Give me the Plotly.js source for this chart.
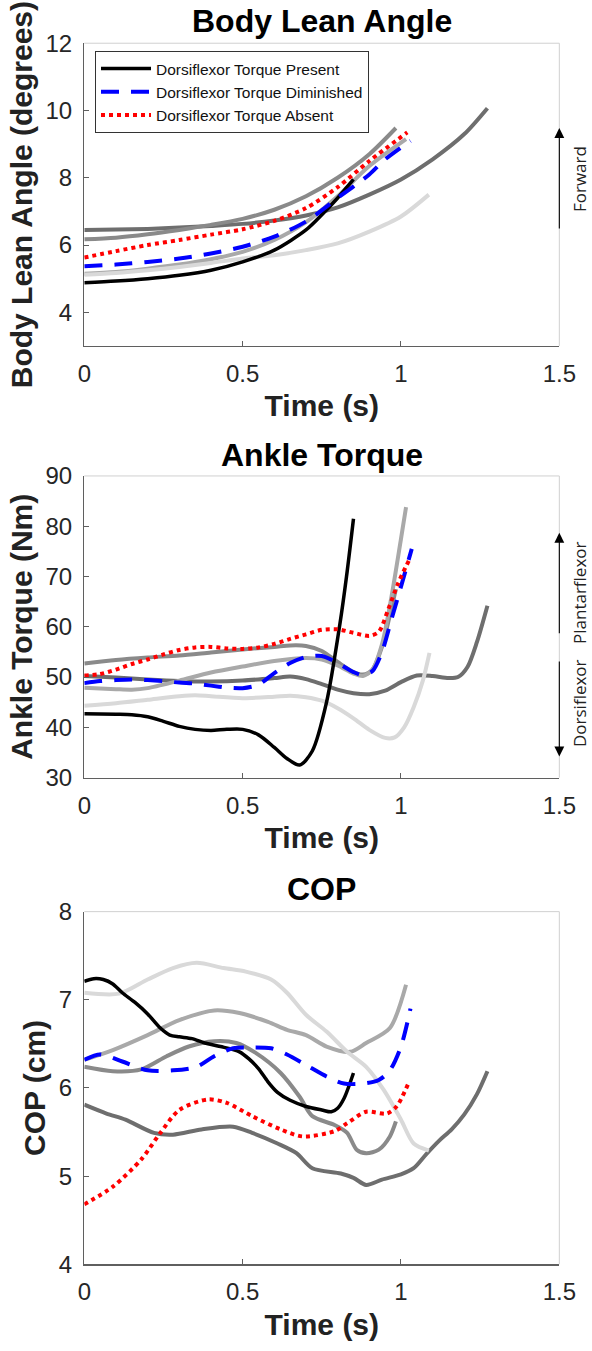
<!DOCTYPE html>
<html>
<head>
<meta charset="utf-8">
<script src="https://cdn.plot.ly/plotly-3.0.1.min.js"></script>
<style>html,body{margin:0;padding:0;background:#fff;}#chart{width:592px;height:1351px;}</style>
</head>
<body>
<div id="chart"></div>
<script>
// ---------- tick labels ----------
const timeTicks = [0, 0.5, 1, 1.5];
const timeTickText = ['0', '0.5', '1', '1.5'];
const leanTicks = [4, 6, 8, 10, 12];
const torqueTicks = [30, 40, 50, 60, 70, 80, 90];
const copTicks = [4, 5, 6, 7, 8];

const seriesNames = ['Dorsiflexor Torque Present', 'Dorsiflexor Torque Diminished', 'Dorsiflexor Torque Absent'];

// ---------- Body Lean Angle (degrees) ----------
const leanPresentT = [0,0.1,0.2,0.3,0.4,0.5,0.6,0.7,0.75,0.8,0.85];
const leanPresent  = [4.88,4.93,5.0,5.1,5.25,5.5,5.85,6.45,6.9,7.4,7.95];
const leanDimT = [0,0.1,0.2,0.3,0.4,0.5,0.6,0.7,0.8,0.9,0.95,1.03];
const leanDim  = [5.37,5.42,5.5,5.6,5.75,5.95,6.25,6.7,7.4,8.1,8.55,9.1];
const leanAbsT = [0,0.1,0.2,0.3,0.4,0.5,0.6,0.7,0.8,0.9,1.02];
const leanAbs  = [5.63,5.82,6.0,6.15,6.31,6.47,6.72,7.1,7.72,8.5,9.35];
const leanG1T = [0,0.1,0.2,0.3,0.4,0.5,0.6,0.7,0.8,0.9,1.0,1.1,1.2,1.273];
const leanG1  = [6.45,6.46,6.48,6.52,6.57,6.63,6.73,6.88,7.12,7.5,7.95,8.55,9.3,10.07];
const leanG2T = [0,0.1,0.2,0.3,0.4,0.5,0.6,0.7,0.8,0.9,0.984];
const leanG2  = [6.17,6.22,6.32,6.45,6.6,6.78,7.05,7.45,8.0,8.7,9.48];
const leanG3T = [0,0.1,0.2,0.3,0.4,0.5,0.6,0.7,0.8,0.9,1.016];
const leanG3  = [5.15,5.2,5.3,5.42,5.58,5.8,6.15,6.68,7.45,8.35,9.15];
const leanG4T = [0,0.1,0.2,0.3,0.4,0.5,0.6,0.7,0.8,0.9,1.0,1.088];
const leanG4  = [5.12,5.17,5.25,5.35,5.47,5.6,5.7,5.85,6.05,6.4,6.85,7.5];

// ---------- Ankle Torque (Nm) ----------
const torqPresentT = [0,0.1,0.15,0.2,0.25,0.3,0.35,0.4,0.45,0.5,0.55,0.6,0.64,0.68,0.72,0.765,0.807,0.828,0.85];
const torqPresent  = [42.7,42.6,42.5,42.1,41.2,40.2,39.6,39.4,39.6,39.6,38.5,36.0,33.8,32.5,35.3,45,60.5,70,81.5];
const torqDimT = [0,0.05,0.1,0.15,0.2,0.25,0.3,0.35,0.4,0.45,0.5,0.55,0.6,0.65,0.7,0.75,0.8,0.85,0.88,0.91,0.94,0.97,1.0,1.034];
const torqDim  = [48.8,49.2,49.4,49.5,49.4,49.2,48.9,48.7,48.3,47.9,47.8,48.5,50.8,52.8,54.0,54.2,52.8,51.0,50.4,51.2,55.0,61.5,68.0,75.5];
const torqAbsT = [0,0.05,0.1,0.15,0.2,0.25,0.3,0.35,0.4,0.45,0.5,0.55,0.6,0.65,0.7,0.75,0.8,0.85,0.9,0.93,0.96,0.99,1.025];
const torqAbs  = [50.3,50.6,51.5,52.6,53.5,54.5,55.4,55.9,56.0,55.7,55.6,55.9,56.6,57.6,58.5,59.4,59.5,58.8,58.2,59.0,63.5,68.5,73.2];
const torqG1T = [0,0.1,0.2,0.3,0.4,0.5,0.6,0.65,0.7,0.75,0.8,0.85,0.9,0.95,1.0,1.05,1.1,1.15,1.18,1.21,1.24,1.273];
const torqG1  = [50.2,49.9,49.5,49.2,49.1,49.3,49.8,50.1,49.6,48.6,47.5,46.8,46.6,47.3,49.0,50.3,50.2,49.8,50.0,52.0,57.0,64.2];
const torqG2T = [0,0.1,0.2,0.3,0.4,0.5,0.6,0.65,0.7,0.75,0.8,0.85,0.88,0.91,0.94,0.96,0.984];
const torqG2  = [52.7,53.4,53.9,54.3,54.9,55.5,56.0,56.3,56.2,55.2,53.0,51.0,50.5,51.5,56.0,61.0,67.5];
const torqG3T = [0,0.1,0.15,0.2,0.3,0.4,0.5,0.6,0.7,0.75,0.8,0.85,0.88,0.91,0.94,0.97,1.0,1.016];
const torqG3  = [47.9,47.6,47.5,47.8,49.3,50.9,52.1,53.2,53.8,53.5,52.3,50.7,50.2,51.5,56.5,66.0,77.5,83.8];
const torqG4T = [0,0.1,0.2,0.3,0.35,0.4,0.5,0.6,0.65,0.7,0.75,0.8,0.85,0.9,0.95,0.98,1.01,1.04,1.07,1.09];
const torqG4  = [44.3,44.8,45.5,46.2,46.4,46.2,45.8,46.1,46.3,46.0,45.3,43.8,41.8,39.5,37.9,38.0,40.0,44.0,49.5,54.8];

// ---------- COP (cm) ----------
const copPresentT = [0,0.03,0.06,0.09,0.12,0.16,0.2,0.24,0.27,0.3,0.34,0.38,0.43,0.49,0.52,0.55,0.58,0.61,0.65,0.7,0.75,0.78,0.8,0.82,0.85];
const copPresent  = [7.21,7.24,7.23,7.18,7.08,6.97,6.84,6.68,6.6,6.58,6.56,6.51,6.47,6.41,6.33,6.22,6.07,5.95,5.86,5.79,5.75,5.73,5.77,5.88,6.17];
const copDimT = [0,0.05,0.12,0.2,0.28,0.355,0.41,0.47,0.52,0.59,0.64,0.71,0.765,0.82,0.88,0.93,0.965,1.0,1.03];
const copDim  = [6.32,6.38,6.3,6.2,6.2,6.24,6.36,6.45,6.46,6.45,6.38,6.24,6.13,6.05,6.05,6.09,6.2,6.47,6.9];
const copAbsT = [0,0.09,0.18,0.24,0.3,0.39,0.45,0.53,0.62,0.69,0.79,0.83,0.89,0.955,0.986,1.023];
const copAbs  = [4.68,4.88,5.19,5.49,5.75,5.87,5.83,5.68,5.53,5.45,5.51,5.6,5.73,5.71,5.79,6.05];
const copG1T = [0,0.07,0.13,0.22,0.28,0.37,0.47,0.53,0.61,0.67,0.72,0.81,0.85,0.89,0.94,1.0,1.04,1.08,1.12,1.16,1.2,1.24,1.273];
const copG1  = [5.81,5.71,5.64,5.49,5.47,5.53,5.56,5.49,5.37,5.26,5.09,5.03,4.98,4.9,4.96,5.02,5.09,5.25,5.4,5.53,5.7,5.93,6.19];
const copG2T = [0,0.09,0.18,0.26,0.33,0.41,0.48,0.54,0.62,0.68,0.72,0.79,0.83,0.86,0.89,0.93,0.965,0.984];
const copG2  = [6.24,6.19,6.21,6.36,6.47,6.53,6.51,6.4,6.17,5.9,5.68,5.58,5.49,5.3,5.26,5.3,5.45,5.62];
const copG3T = [0,0.09,0.2,0.3,0.41,0.49,0.58,0.64,0.7,0.765,0.84,0.89,0.965,1.016];
const copG3  = [6.32,6.43,6.6,6.77,6.88,6.85,6.75,6.66,6.6,6.47,6.41,6.51,6.68,7.17];
const copG4T = [0,0.11,0.2,0.28,0.355,0.44,0.51,0.59,0.64,0.7,0.765,0.83,0.89,0.945,1.0,1.04,1.088];
const copG4  = [7.08,7.07,7.23,7.36,7.42,7.36,7.32,7.23,7.08,6.83,6.64,6.41,6.24,5.98,5.64,5.37,5.29];

// ---------- styles ----------
const grayStyles = [
  {color:'#6e6e6e', width:4},
  {color:'#8a8a8a', width:4},
  {color:'#a9a9a9', width:4},
  {color:'#d9d9d9', width:4}
];
const mainStyles = [
  {color:'#000000', width:3.5, dash:'solid'},
  {color:'#0000ff', width:4, dash:'18px,12px'},
  {color:'#ff0000', width:4, dash:'dot'}
];

function panel(ax, grays, mains, legend) {
  const xa = ax === 1 ? 'x' : 'x' + ax;
  const ya = ax === 1 ? 'y' : 'y' + ax;
  const out = [];
  grays.forEach((g, i) => out.push({
    x: g[0], y: g[1], xaxis: xa, yaxis: ya, type: 'scatter', mode: 'lines',
    line: Object.assign({shape:'spline', smoothing:0.8}, grayStyles[i]),
    showlegend: false, hoverinfo: 'skip'
  }));
  mains.forEach((m, i) => out.push({
    x: m[0], y: m[1], xaxis: xa, yaxis: ya, type: 'scatter', mode: 'lines',
    name: seriesNames[i], legendgroup: 'g' + i,
    line: Object.assign({shape:'spline', smoothing:0.8}, mainStyles[i]),
    showlegend: legend, hoverinfo: 'skip'
  }));
  return out;
}

const data = [].concat(
  panel(1, [[leanG1T,leanG1],[leanG2T,leanG2],[leanG3T,leanG3],[leanG4T,leanG4]],
           [[leanPresentT,leanPresent],[leanDimT,leanDim],[leanAbsT,leanAbs]], true),
  panel(2, [[torqG1T,torqG1],[torqG2T,torqG2],[torqG3T,torqG3],[torqG4T,torqG4]],
           [[torqPresentT,torqPresent],[torqDimT,torqDim],[torqAbsT,torqAbs]], false),
  panel(3, [[copG1T,copG1],[copG2T,copG2],[copG3T,copG3],[copG4T,copG4]],
           [[copPresentT,copPresent],[copDimT,copDim],[copAbsT,copAbs]], false)
);

const FONT = 'Liberation Sans, Arial, Helvetica, sans-serif';
const AXC = '#5f5f5f';
const xDom = [0.1424, 0.9448];
const yDoms = [[0.7439, 0.9680], [0.4244, 0.6477], [0.0642, 0.3252]];

function xAxis(anchor) {
  return {
    domain: xDom, anchor: anchor, range: [0, 1.5], tickvals: timeTicks, ticktext: timeTickText,
    showline: true, linecolor: AXC, linewidth: 1.3, ticks: 'inside', ticklen: 5, tickcolor: AXC,
    showgrid: false, zeroline: false, ticklabelstandoff: 6,
    tickfont: {family: FONT, size: 24, color: '#262626'},
    title: {text: 'Time (s)', standoff: 9, font: {family: FONT, size: 30, weight: 'bold', color: '#222'}}
  };
}
function yAxis(anchor, dom, range, ticks, title) {
  return {
    domain: dom, anchor: anchor, range: range, tickvals: ticks,
    showline: true, linecolor: AXC, linewidth: 1.3, ticks: 'inside', ticklen: 5, tickcolor: AXC,
    showgrid: false, zeroline: false, ticklabelstandoff: 6,
    tickfont: {family: FONT, size: 24, color: '#262626'},
    title: {text: title, standoff: 4, font: {family: FONT, size: 30, weight: 'bold', color: '#222'}}
  };
}

const shapes = [];
['x', 'x2', 'x3'].forEach((xa, i) => {
  const ya = i === 0 ? 'y' : 'y' + (i + 1);
  shapes.push({type:'line', xref: xa + ' domain', yref: ya + ' domain', x0:0, x1:1, y0:1, y1:1, line:{color:'#d0d0d0', width:1}});
  shapes.push({type:'line', xref: xa + ' domain', yref: ya + ' domain', x0:1, x1:1, y0:0, y1:1, line:{color:'#d0d0d0', width:1}});
});

const titleFont = {family: FONT, size: 32, weight: 'bold', color: '#000'};
const sideFont = {family: 'Open Sans, sans-serif', size: 17, color: '#222'};
const annotations = [
  {text:'Body Lean Angle', xref:'paper', yref:'paper', x:0.5436, y:1 - 21/1351, xanchor:'center', yanchor:'middle', showarrow:false, font:titleFont},
  {text:'Ankle Torque', xref:'paper', yref:'paper', x:0.5436, y:1 - 455/1351, xanchor:'center', yanchor:'middle', showarrow:false, font:titleFont},
  {text:'COP', xref:'paper', yref:'paper', x:0.5436, y:1 - 889/1351, xanchor:'center', yanchor:'middle', showarrow:false, font:titleFont},
  // direction arrows
  {text:'', x:1.5, y:9.48, ax:1.5, ay:6.45, xref:'x', yref:'y', axref:'x', ayref:'y', showarrow:true, arrowhead:2, arrowsize:1.8, arrowwidth:1.1, arrowcolor:'#000'},
  {text:'', x:1.5, y:78.7, ax:1.5, ay:58.4, xref:'x2', yref:'y2', axref:'x2', ayref:'y2', showarrow:true, arrowhead:2, arrowsize:1.8, arrowwidth:1.1, arrowcolor:'#000'},
  {text:'', x:1.5, y:34.2, ax:1.5, ay:53.4, xref:'x2', yref:'y2', axref:'x2', ayref:'y2', showarrow:true, arrowhead:2, arrowsize:1.8, arrowwidth:1.1, arrowcolor:'#000'},
  {text:'Forward', xref:'paper', yref:'paper', x:579/592, y:1 - 179/1351, xanchor:'center', yanchor:'middle', textangle:-90, showarrow:false, font:sideFont},
  {text:'Plantarflexor', xref:'paper', yref:'paper', x:579/592, y:1 - 593/1351, xanchor:'center', yanchor:'middle', textangle:-90, showarrow:false, font:sideFont},
  {text:'Dorsiflexor', xref:'paper', yref:'paper', x:579/592, y:1 - 703/1351, xanchor:'center', yanchor:'middle', textangle:-90, showarrow:false, font:sideFont}
];

const layout = {
  width: 592, height: 1351,
  margin: {l:0, r:0, t:0, b:0},
  paper_bgcolor: '#fff', plot_bgcolor: '#fff',
  font: {family: FONT},
  showlegend: true,
  legend: {
    x: 95/592, y: 1 - 51/1351, xanchor: 'left', yanchor: 'top',
    bgcolor: '#fff', bordercolor: '#333', borderwidth: 1,
    font: {family: FONT, size: 15.5, color: '#111'},
    traceorder: 'grouped', tracegroupgap: 0, itemwidth: 50
  },
  xaxis: xAxis('y'),
  yaxis: yAxis('x', yDoms[0], [3, 12], leanTicks, 'Body Lean Angle (degrees)'),
  xaxis2: xAxis('y2'),
  yaxis2: yAxis('x2', yDoms[1], [30, 90], torqueTicks, 'Ankle Torque (Nm)'),
  xaxis3: xAxis('y3'),
  yaxis3: yAxis('x3', yDoms[2], [4, 8], copTicks, 'COP (cm)'),
  shapes: shapes,
  annotations: annotations
};

Plotly.newPlot('chart', data, layout, {staticPlot: true, displayModeBar: false});
</script>
</body>
</html>
